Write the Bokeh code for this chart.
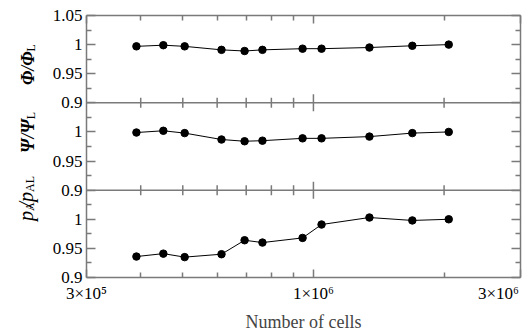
import math
from bokeh.plotting import figure
from bokeh.layouts import row
from bokeh.models import (Range1d, FixedTicker, LogAxis, LinearAxis, Label, Span,
                          CustomJSTickFormatter)
from bokeh.embed import file_html
from bokeh.resources import INLINE

# ---- data ----
cells = [3.91e5, 4.51e5, 5.05e5, 6.14e5, 6.94e5, 7.63e5, 9.44e5, 1.044e6, 1.346e6, 1.69e6, 2.05e6]
phi_ratio = [0.997, 0.999, 0.997, 0.991, 0.989, 0.991, 0.993, 0.993, 0.995, 0.998, 1.000]
psi_ratio = [0.999, 1.002, 0.998, 0.987, 0.984, 0.985, 0.989, 0.989, 0.992, 0.998, 1.000]
pa_ratio = [0.936, 0.941, 0.935, 0.940, 0.964, 0.960, 0.968, 0.991, 1.003, 0.998, 1.000]

x_major = [3e5, 1e6, 3e6]
x_minor = [4e5, 5e5, 6e5, 7e5, 8e5, 9e5, 2e6]
x_tick_labels = ["3×10⁵", "1×10⁶", "3×10⁶"]
y_major = [0.9, 0.95, 1.0, 1.05]
y_minor = [0.925, 0.975, 1.025]
y_tick_labels = ["0.9", "0.95", "1", "1.05"]
x_title = "Number of cells"

FONT = "'Liberation Serif', 'Times New Roman', serif"
GRAY = "#7a7a7a"
TOTAL_W, TOTAL_H = 524, 334
TITLE_W = 40          # strip holding the rotated y titles
BORDER_LEFT, BORDER_RIGHT = 86, 4
BORDER_TOP, BORDER_BOTTOM = 15, 56
FRAME_W = TOTAL_W - BORDER_LEFT - BORDER_RIGHT

# panels from top to bottom, stacked in one frame; each gets its own y range
panels = [("top", phi_ratio, 0.30), ("mid", psi_ratio, 0.15), ("bot", pa_ratio, 0.0)]
lo, hi = y_major[0], y_major[-1]
span = hi - lo

p = figure(width=TOTAL_W - TITLE_W, height=TOTAL_H, x_axis_type="log",
           x_range=Range1d(x_major[0], x_major[-1]),
           y_range=Range1d(lo, hi + 2 * span),
           output_backend="svg", toolbar_location=None,
           min_border_left=BORDER_LEFT - TITLE_W, min_border_right=BORDER_RIGHT,
           min_border_top=BORDER_TOP, min_border_bottom=BORDER_BOTTOM)
p.grid.visible = False
p.outline_line_color = None
p.background_fill_color = "white"
p.border_fill_color = "white"
p.extra_y_ranges = {name: Range1d(lo - off, hi + 2 * span - off)
                    for name, _, off in panels if off}

# common tick positions (bottom panel first so that upper panels' labels win)
tick_map = {}
minor_all = []
for name, _, off in reversed(panels):
    for v, lab in zip(y_major, y_tick_labels):
        tick_map[round(v + off, 4)] = lab
    minor_all += [round(v + off, 4) for v in y_minor]
y_ticks = sorted(tick_map)


def style_axis(ax, ticks, minor, major_in):
    ax.ticker = FixedTicker(ticks=ticks, minor_ticks=minor)
    ax.axis_line_color = GRAY
    ax.axis_line_width = 1.5
    ax.major_tick_line_color = GRAY
    ax.minor_tick_line_color = GRAY
    ax.major_tick_line_width = 1.5
    ax.minor_tick_line_width = 1.5
    ax.major_tick_in = major_in
    ax.major_tick_out = 0
    ax.minor_tick_in = 5
    ax.minor_tick_out = 0
    ax.major_label_text_font = FONT
    ax.major_label_text_font_size = "17px"
    ax.major_label_text_color = "black"


JS = """
const i = keys.findIndex(k => Math.abs(k - tick) < tol);
return i >= 0 ? labels[i] : "";
"""

left = p.left[0]
style_axis(left, y_ticks, minor_all, 9)
left.formatter = CustomJSTickFormatter(
    args=dict(keys=y_ticks, labels=[tick_map[t] for t in y_ticks], tol=1e-6), code=JS)
left.major_label_standoff = 4

# bottom: ticks only on the frame edge ...
bottom = p.below[0]
style_axis(bottom, x_major, x_minor, 8)
bottom.major_label_text_color = None
bottom.axis_label = None

# ... and a second axis carrying the tick labels and the title. The last label
# is set ~22 px left of its tick so it stays inside the window, as in the reference.
decade_px = FRAME_W / math.log10(x_major[-1] / x_major[0])
x_label_pos = x_major[:2] + [x_major[2] / 10 ** (22 / decade_px)]
lab_ax = LogAxis()
lab_ax.ticker = FixedTicker(ticks=x_label_pos, minor_ticks=[])
lab_ax.formatter = CustomJSTickFormatter(
    args=dict(keys=x_label_pos, labels=x_tick_labels, tol=1.0), code=JS)
lab_ax.axis_line_color = None
lab_ax.major_tick_line_color = None
lab_ax.minor_tick_line_color = None
lab_ax.major_tick_in = 0
lab_ax.major_tick_out = 0
lab_ax.minor_tick_in = 0
lab_ax.minor_tick_out = 0
lab_ax.major_label_text_font = FONT
lab_ax.major_label_text_font_size = "17px"
lab_ax.major_label_text_color = "black"
lab_ax.major_label_standoff = 6
lab_ax.axis_label = x_title
lab_ax.axis_label_text_font = FONT
lab_ax.axis_label_text_font_size = "18px"
lab_ax.axis_label_text_font_style = "normal"
lab_ax.axis_label_standoff = 6
p.add_layout(lab_ax, "below")

top_ax = LogAxis()
style_axis(top_ax, x_major, x_minor, 8)
top_ax.major_label_text_color = None
p.add_layout(top_ax, "above")

right_ax = LinearAxis()
style_axis(right_ax, y_ticks, minor_all, 9)
right_ax.major_label_text_color = None
p.add_layout(right_ax, "right")

# boundaries between panels with ticks crossing them
for k in (1, 2):
    b = round(lo + k * span, 4)
    p.add_layout(Span(location=b, dimension="width", line_color=GRAY, line_width=1.5))
    p.scatter(x_minor, [b] * len(x_minor), marker="dash", angle=math.pi / 2, size=10,
              line_color=GRAY, line_width=1.5)
    p.scatter([x_major[1]], [b], marker="dash", angle=math.pi / 2, size=17,
              line_color=GRAY, line_width=1.5)

# data
for name, vals, off in panels:
    kw = {"y_range_name": name} if off else {}
    p.line(cells, vals, line_color="black", line_width=1, **kw)
    p.scatter(cells, vals, size=7.5, fill_color="black", line_color="black", **kw)

# ---- strip with the rotated y titles (its data units are pixels, y downwards) ----
t = figure(width=TITLE_W, height=TOTAL_H, x_range=Range1d(0, TITLE_W),
           y_range=Range1d(TOTAL_H, 0), output_backend="svg", toolbar_location=None,
           x_axis_location=None, y_axis_location=None,
           min_border_left=0, min_border_right=0, min_border_top=0, min_border_bottom=0)
t.grid.visible = False
t.outline_line_color = None
t.background_fill_color = "white"
t.border_fill_color = "white"

panel_h = (TOTAL_H - BORDER_TOP - BORDER_BOTTOM) / 3.0


def tlabel(x, y, text, size, style, align):
    t.add_layout(Label(x=x, y=y, text=text, angle=math.pi / 2, text_align=align,
                       text_baseline="alphabetic", text_font=FONT,
                       text_font_size=f"{size}px", text_font_style=style,
                       text_color="black"))


def rotated_title(k, base_x, pairs, drop=4):
    """pairs: (main text, main size, main style, main est. width, sub text, sub est. width).
    Each main text ends exactly where its subscript starts (reading bottom to top)."""
    center = BORDER_TOP + panel_h * (k + 0.5)
    total = sum(m_w + s_w for _, _, _, m_w, _, s_w in pairs)
    pos = center + total / 2.0
    for main, size, style, m_w, sub, s_w in pairs:
        pos -= m_w
        tlabel(base_x, pos, main, size, style, "right")
        tlabel(base_x + drop, pos, sub, 12, "normal", "left")
        pos -= s_w


rotated_title(0, 27, [("Φ/Φ", 18, "bold italic", 33, "L", 7.3)], drop=3)
rotated_title(1, 27, [("Ψ/Ψ", 18, "bold italic", 36, "L", 7.3)], drop=3)
rotated_title(2, 25, [("p", 20, "italic", 10, "A", 8.7), ("/p", 20, "italic", 15.6, "AL", 16)])

layout = row(t, p, spacing=0)
open("out.html", "w").write(file_html(layout, INLINE))
